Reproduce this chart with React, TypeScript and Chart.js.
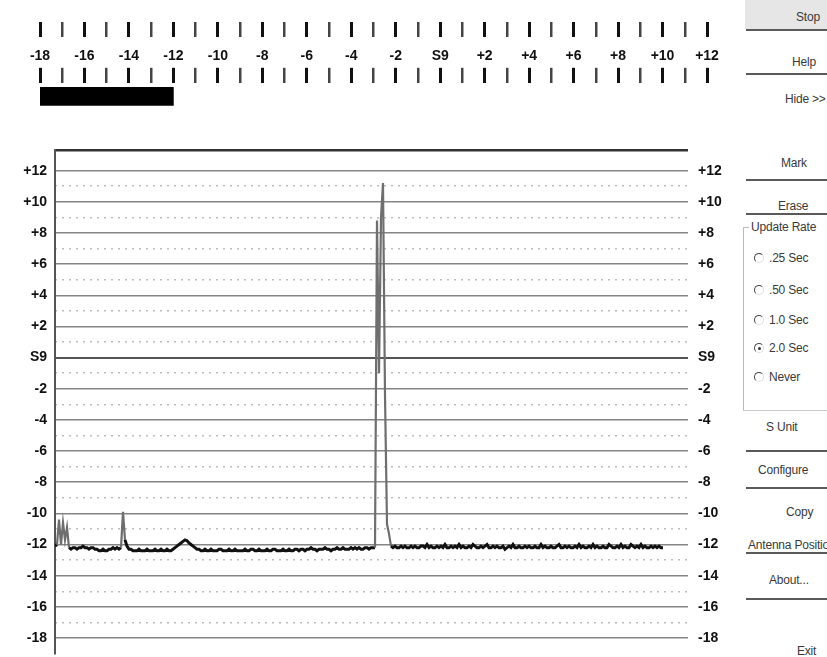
import React, { useEffect, useRef } from "react";
import { Chart, registerables } from "chart.js";

Chart.register(...registerables);

// ---- data ----
const meterFloor = -18;
const meterCeiling = 12;
const currentLevel = -12;

const levelTicks = [-18, -16, -14, -12, -10, -8, -6, -4, -2, 0, 2, 4, 6, 8, 10, 12];
const halfLevelTicks = [-17, -15, -13, -11, -9, -7, -5, -3, -1, 1, 3, 5, 7, 9, 11];
const frameTop = 13.3;
const frameBottom = -19;
const sampleSpan = 316.5;

const signalLevels = [
  -12.1, -12.0, -10.4, -12.0, -10.6, -11.7, -10.9, -12.2, -12.3, -12.2, -12.2, -12.3, -12.2, -12.2, -12.1, -12.2, -12.2, -12.3, -12.2, -12.2,
  -12.3, -12.3, -12.4, -12.4, -12.3, -12.4, -12.4, -12.3, -12.3, -12.2, -12.3, -12.2, -12.3, -12.2, -9.9, -11.7, -12.1, -12.3, -12.3, -12.4,
  -12.4, -12.4, -12.3, -12.4, -12.4, -12.4, -12.3, -12.4, -12.4, -12.4, -12.3, -12.4, -12.4, -12.3, -12.4, -12.4, -12.3, -12.4, -12.4, -12.3,
  -12.2, -12.1, -12.0, -11.9, -11.8, -11.7, -11.75, -11.9, -12.0, -12.1, -12.2, -12.3, -12.3, -12.4, -12.4, -12.3, -12.4, -12.4, -12.3, -12.4,
  -12.4, -12.4, -12.3, -12.3, -12.4, -12.4, -12.4, -12.3, -12.4, -12.4, -12.3, -12.4, -12.4, -12.4, -12.4, -12.3, -12.4, -12.4, -12.3, -12.3,
  -12.4, -12.4, -12.3, -12.4, -12.4, -12.4, -12.3, -12.4, -12.4, -12.3, -12.3, -12.4, -12.4, -12.4, -12.3, -12.4, -12.4, -12.3, -12.4, -12.4,
  -12.3, -12.3, -12.4, -12.3, -12.3, -12.4, -12.3, -12.3, -12.2, -12.3, -12.3, -12.4, -12.3, -12.3, -12.3, -12.2, -12.3, -12.3, -12.4, -12.3,
  -12.3, -12.2, -12.3, -12.3, -12.2, -12.3, -12.3, -12.3, -12.2, -12.3, -12.2, -12.3, -12.2, -12.3, -12.3, -12.2, -12.2, -12.3, -12.2, -12.2,
  -12.2, 8.8, -1.0, 9.0, 11.2, -2.4, -10.7, -11.3, -12.1, -12.2, -12.1, -12.2, -12.2, -12.1, -12.2, -12.1, -12.2, -12.2, -12.1, -12.2,
  -12.1, -12.2, -12.2, -12.1, -12.1, -12.2, -12.0, -12.2, -12.1, -12.2, -12.2, -12.1, -12.2, -12.1, -12.2, -12.0, -12.2, -12.2, -12.1, -12.2,
  -12.1, -12.2, -12.0, -12.2, -12.1, -12.2, -12.2, -12.1, -12.2, -12.0, -12.1, -12.2, -12.2, -12.1, -12.2, -12.1, -12.0, -12.2, -12.2, -12.1,
  -12.2, -12.1, -12.2, -12.2, -12.1, -12.3, -12.2, -12.1, -12.2, -12.0, -12.2, -12.2, -12.1, -12.2, -12.2, -12.1, -12.2, -12.1, -12.2, -12.2,
  -12.1, -12.2, -12.2, -12.0, -12.2, -12.1, -12.2, -12.2, -12.1, -12.2, -12.2, -12.1, -12.0, -12.2, -12.2, -12.1, -12.2, -12.1, -12.2, -12.2,
  -12.1, -12.2, -12.0, -12.2, -12.1, -12.2, -12.2, -12.1, -12.2, -12.0, -12.2, -12.1, -12.2, -12.2, -12.1, -12.2, -12.2, -12.0, -12.1, -12.2,
  -12.2, -12.1, -12.2, -12.0, -12.2, -12.1, -12.2, -12.2, -12.0, -12.1, -12.2, -12.1, -12.2, -12.0, -12.2, -12.1, -12.2, -12.2, -12.1, -12.2,
  -12.1, -12.2, -12.1, -12.2, -12.2,
];

const rateOptions = [".25 Sec", ".50 Sec", "1.0 Sec", "2.0 Sec", "Never"];
const selectedRate = "2.0 Sec";

const fmtLevel = (v: number) => (v === 0 ? "S9" : v > 0 ? `+${v}` : `${v}`);

const labelFont = {
  family: "'Liberation Sans', Arial, sans-serif",
  size: 14,
  weight: "bold" as const,
};

const uiFont = "'Liberation Sans', Arial, sans-serif";

function TopMeter() {
  const ref = useRef<HTMLCanvasElement>(null);
  useEffect(() => {
    if (!ref.current) return;
    const tickW = (ctx: any) => (ctx.tick && Math.round(ctx.tick.value) % 2 === 0 ? 3 : 2.5);
    const tickC = (ctx: any) => (ctx.tick && Math.round(ctx.tick.value) % 2 === 0 ? "#111" : "#444");
    const chart = new Chart(ref.current, {
      type: "bar",
      data: {
        labels: ["level"],
        datasets: [
          {
            data: [[meterFloor, currentLevel]] as any,
            backgroundColor: "#000",
            borderWidth: 0,
            barThickness: 18,
          },
        ],
      },
      options: {
        indexAxis: "y",
        animation: false,
        responsive: false,
        maintainAspectRatio: false,
        layout: { padding: { left: 20, right: 23, top: 12, bottom: 0 } },
        plugins: { legend: { display: false }, tooltip: { enabled: false } },
        scales: {
          x: {
            type: "linear",
            position: "top",
            min: meterFloor,
            max: meterCeiling,
            ticks: {
              stepSize: 1,
              autoSkip: false,
              maxRotation: 0,
              padding: 3,
              color: "#111",
              font: labelFont,
              callback: (v: any) => (Math.round(v) % 2 === 0 ? fmtLevel(Math.round(v)) : ""),
            },
            grid: {
              drawOnChartArea: false,
              drawTicks: true,
              tickLength: 15,
              lineWidth: tickW,
              tickWidth: tickW,
              color: tickC,
              tickColor: tickC,
            },
            border: { display: false },
            afterFit: (s: any) => {
              s.height += 8;
            },
          },
          x2: {
            type: "linear",
            position: "top",
            weight: 1,
            min: meterFloor,
            max: meterCeiling,
            ticks: { stepSize: 1, display: false, autoSkip: false },
            grid: {
              drawOnChartArea: false,
              drawTicks: true,
              tickLength: 15,
              lineWidth: tickW,
              tickWidth: tickW,
              color: tickC,
              tickColor: tickC,
            },
            border: { display: false },
          },
          y: { type: "category", display: false },
        },
      } as any,
    });
    return () => chart.destroy();
  }, []);
  return (
    <canvas
      ref={ref}
      width={710}
      height={100}
      style={{ position: "absolute", left: 20, top: 10, width: 710, height: 100 }}
    />
  );
}

function MainTrace() {
  const ref = useRef<HTMLCanvasElement>(null);
  useEffect(() => {
    if (!ref.current) return;
    const points = signalLevels.map((y, i) => ({ x: i, y }));
    const chart = new Chart(ref.current, {
      type: "line",
      data: {
        datasets: [
          {
            data: points,
            borderColor: "#111",
            borderWidth: 3,
            pointRadius: 0,
            tension: 0,
            segment: {
              borderColor: (ctx: any) =>
                Math.max(ctx.p0.parsed.y, ctx.p1.parsed.y) > -11.6 ? "#6e6e6e" : "#111",
              borderWidth: (ctx: any) =>
                Math.max(ctx.p0.parsed.y, ctx.p1.parsed.y) > -11.6 ? 2.2 : 3,
            },
          },
        ],
      },
      options: {
        animation: false,
        responsive: false,
        maintainAspectRatio: false,
        layout: { padding: { top: 12, bottom: 14, left: 0, right: 0 } },
        plugins: { legend: { display: false }, tooltip: { enabled: false } },
        scales: {
          x: { type: "linear", min: 0, max: sampleSpan, display: false },
          y: {
            position: "left",
            min: frameBottom,
            max: frameTop,
            afterBuildTicks: (s: any) => {
              s.ticks = [...levelTicks, frameTop].map((value) => ({ value }));
            },
            ticks: {
              autoSkip: false,
              padding: 8,
              color: "#111",
              font: labelFont,
              callback: (v: any) => (v === frameTop ? "" : fmtLevel(v)),
            },
            grid: {
              drawTicks: false,
              color: (ctx: any) =>
                ctx.tick?.value === frameTop ? "#333" : ctx.tick?.value === 0 ? "#555" : "#858585",
              lineWidth: (ctx: any) =>
                ctx.tick?.value === frameTop ? 2.5 : ctx.tick?.value === 0 ? 2 : 1.5,
            },
            border: { display: true, color: "#555", width: 2 },
            afterFit: (s: any) => {
              s.width = 45;
            },
          },
          y2: {
            position: "left",
            min: frameBottom,
            max: frameTop,
            afterBuildTicks: (s: any) => {
              s.ticks = halfLevelTicks.map((value) => ({ value }));
            },
            ticks: { display: false, autoSkip: false },
            grid: { drawTicks: false, color: "#bdbdbd", lineWidth: 1.5 },
            border: { display: false, dash: [2, 5] },
            afterFit: (s: any) => {
              s.width = 0;
            },
          },
          y3: {
            position: "right",
            min: frameBottom,
            max: frameTop,
            afterBuildTicks: (s: any) => {
              s.ticks = levelTicks.map((value) => ({ value }));
            },
            ticks: {
              autoSkip: false,
              padding: 10,
              color: "#111",
              font: labelFont,
              callback: (v: any) => fmtLevel(v),
            },
            grid: { drawOnChartArea: false, drawTicks: false },
            border: { display: false },
            afterFit: (s: any) => {
              s.width = 40;
            },
          },
        },
      } as any,
    });
    return () => chart.destroy();
  }, []);
  return (
    <canvas
      ref={ref}
      width={718}
      height={540}
      style={{ position: "absolute", left: 10, top: 132, width: 718, height: 540 }}
    />
  );
}

const txt = (left: number, cy: number, text: string, extra: React.CSSProperties = {}) => (
  <div
    key={text + cy}
    style={{
      position: "absolute",
      left,
      top: cy - 7,
      height: 14,
      lineHeight: "14px",
      fontFamily: uiFont,
      fontSize: 12,
      letterSpacing: -0.2,
      color: "#3a3a3a",
      whiteSpace: "nowrap",
      ...extra,
    }}
  >
    {text}
  </div>
);

const rule = (top: number) => (
  <div
    key={"r" + top}
    style={{ position: "absolute", left: 746, top, width: 90, height: 2, background: "#5a5a5a" }}
  />
);

function SidePanel() {
  const radioY = [258, 290, 320, 348, 377];
  return (
    <>
      <div style={{ position: "absolute", left: 745, top: 0, width: 90, height: 29, background: "#e6e6e6" }} />
      {txt(796, 17, "Stop")}
      {rule(29)}
      {txt(792, 62, "Help")}
      {rule(73)}
      {txt(785, 99, "Hide >>")}
      {txt(781, 163, "Mark")}
      {rule(179)}
      {txt(778, 206, "Erase")}
      {rule(213)}
      <div style={{ position: "absolute", left: 743, top: 227, width: 1, height: 184, background: "#bbb" }} />
      <div style={{ position: "absolute", left: 743, top: 227, width: 6, height: 1, background: "#bbb" }} />
      {txt(751, 227, "Update Rate")}
      {rateOptions.map((r, i) => (
        <React.Fragment key={r}>
          <div
            style={{
              position: "absolute",
              left: 754,
              top: radioY[i] - 5,
              width: 8,
              height: 8,
              borderRadius: "50%",
              border: "1px solid",
              borderColor: "#444 #ddd #ddd #444",
              boxSizing: "content-box",
            }}
          >
            {r === selectedRate ? (
              <div
                style={{
                  position: "absolute",
                  left: 2.5,
                  top: 2.5,
                  width: 3,
                  height: 3,
                  borderRadius: "50%",
                  background: "#333",
                }}
              />
            ) : null}
          </div>
          {txt(769, radioY[i], r)}
        </React.Fragment>
      ))}
      <div style={{ position: "absolute", left: 743, top: 410, width: 90, height: 1, background: "#ccc" }} />
      {txt(766, 427, "S Unit")}
      {rule(450)}
      {txt(758, 470, "Configure")}
      {rule(487)}
      {txt(786, 512, "Copy")}
      {txt(748, 545, "Antenna Position")}
      {rule(552)}
      {txt(769, 580, "About...")}
      {rule(598)}
      {txt(797, 651, "Exit")}
    </>
  );
}

export default function App() {
  return (
    <div
      style={{
        position: "fixed",
        left: 0,
        top: 0,
        width: 827,
        height: 657,
        overflow: "hidden",
        background: "#fff",
      }}
    >
      <TopMeter />
      <MainTrace />
      <SidePanel />
    </div>
  );
}
